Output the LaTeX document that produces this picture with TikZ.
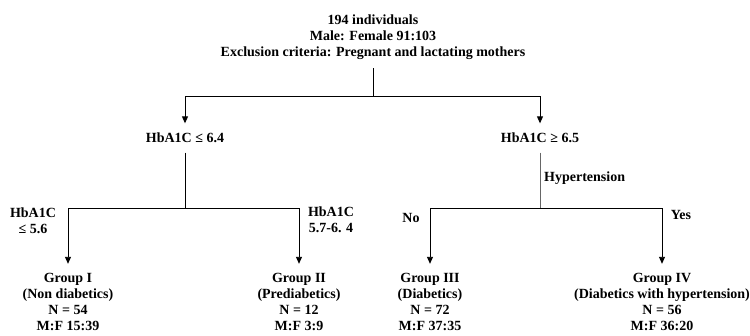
\documentclass[tikz,border=0pt]{standalone}
\usepackage{fontspec}
\setmainfont{Liberation Serif}
\usetikzlibrary{arrows.meta}

\begin{document}
\begin{tikzpicture}[x=1pt, y=-1pt,
    label text/.style={font=\fontsize{14}{16.7}\selectfont\bfseries, align=center},
    flow/.style={line width=0.9pt, black},
    arrowline/.style={flow, -{Triangle[length=7pt, width=6pt]}},
    group text/.style={label text, font=\fontsize{14}{16.3}\selectfont\bfseries, inner ysep=8.8pt}]
        \useasboundingbox (0,0) rectangle (750,336);

        % Whole cohort at the top
        \node[label text, font=\fontsize{14}{16}\selectfont\bfseries, inner ysep=8.5pt] (cohort) at (373,37)
            {194 individuals\\ Male: Female 91:103\\ Exclusion criteria: Pregnant and lactating mothers};
        \coordinate (split) at (373,96);

        % First split on HbA1C
        \node[label text, inner ysep=9.5pt] (low) at (185,138) {HbA1C ≤ 6.4};
        \node[label text, inner ysep=9.5pt] (high) at (540,138) {HbA1C ≥ 6.5};
        \draw[flow] (cohort) -- (split);
        \draw[arrowline] (split) -| (low);
        \draw[arrowline] (split) -| (high);

        % Four groups at the bottom
        \node[group text] (g1) at (68,302) {Group I\\ (Non diabetics)\\ N = 54\\ M:F 15:39};
        \node[group text] (g2) at (299,302) {Group II\\ (Prediabetics)\\ N = 12\\ M:F 3:9};
        \node[group text] (g3) at (430,302) {Group III\\ (Diabetics)\\ N = 72\\ M:F 37:35};
        \node[group text] (g4) at (662,302) {Group IV\\ (Diabetics with hypertension)\\ N = 56\\ M:F 36:20};

        % Left branch: split on HbA1C cut-offs
        \coordinate (lowsplit) at (185,208);
        \draw[flow] (low) -- (lowsplit);
        \draw[arrowline] (lowsplit) -| (g1);
        \draw[arrowline] (lowsplit) -| (g2);
        \node[label text, font=\fontsize{14}{16}\selectfont\bfseries] (cut1) at (33,221) {HbA1C\\ ≤ 5.6};
        \node[label text, font=\fontsize{14}{16}\selectfont\bfseries] (cut2) at (331,220) {HbA1C\\ 5.7-6. 4};

        % Right branch: split on hypertension
        \coordinate (highsplit) at (540,208);
        \draw[flow, black!60] (high) -- (highsplit);
        \draw[arrowline] (highsplit) -| (g3);
        \draw[arrowline] (highsplit) -| (g4);
        \node[label text, anchor=west, inner sep=0pt] (hyp) at (544,178) {Hypertension};
        \node[label text] (no) at (411,218) {No};
        \node[label text] (yes) at (681,215) {Yes};
    \end{tikzpicture}
\end{document}
